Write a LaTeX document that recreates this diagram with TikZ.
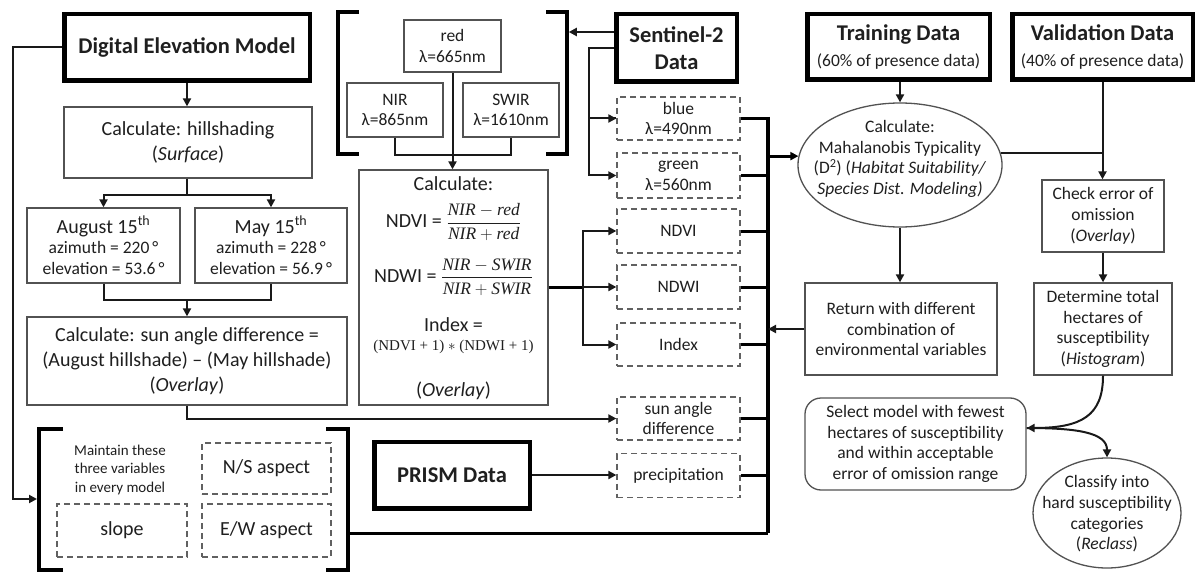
\documentclass[tikz,border=0pt]{standalone}
\usepackage{fix-cm}
\usepackage{amsmath}
\usepackage{fontspec}
\setmainfont{Carlito}
\newfontfamily\serfont{Liberation Serif}
\usetikzlibrary{arrows.meta,shapes.geometric,calc}
\newcommand{\fHead}{\fontsize{22.5}{27}\selectfont\bfseries}
\newcommand{\fBig}{\fontsize{20}{25}\selectfont}
\newcommand{\fSm}{\fontsize{17.5}{20.7}\selectfont}
\newcommand{\fNote}{\fontsize{15}{18.5}\selectfont}
\newcommand{\fFrac}{\fontsize{17.5}{20}\selectfont}
\newcommand{\mv}[1]{\mbox{\serfont\itshape #1}}
\begin{document}
\begin{tikzpicture}[x=1pt,y=-1pt,
 base/.style={align=center,inner sep=0pt,text=black!88},
 tbox/.style={base,draw=black!68,line width=1.3pt},
 hbox/.style={base,draw=black,line width=4.5pt},
 dbox/.style={base,draw=black!62,line width=1.3pt,dash pattern=on 6pt off 4pt},
 oval/.style={ellipse,draw=black!68,line width=1.3pt,inner sep=0pt},
 brk/.style={draw=black,line width=3.5pt},
 ln/.style={draw=black!90,line width=2pt},
 lnb/.style={draw=black,line width=3pt},
 tip/.style={-{Triangle[length=8pt,width=8pt]}},
]
\useasboundingbox[fill=white] (0,0) rectangle (1198,572);

% ---------- DEM branch ----------
\node[hbox,minimum width=245.5pt,minimum height=66.5pt,font=\fHead] (dem) at (187,47.5) {Digital Elevation Model};
\node[tbox,minimum width=248pt,minimum height=71pt,font=\fBig] (hill) at (188,142.5) {Calculate: hillshading\\(\textit{Surface})};
\node[tbox,minimum width=153pt,minimum height=75pt,font=\fSm] (aug) at (103.5,245.5) {{\fBig August 15\textsuperscript{th}}\\azimuth = 220\,°\\elevation = 53.6\,°};
\node[tbox,minimum width=152pt,minimum height=75pt,font=\fSm] (may) at (271,245.5) {{\fBig May 15\textsuperscript{th}}\\azimuth = 228\,°\\elevation = 56.9\,°};
\node[tbox,minimum width=320pt,minimum height=88pt,font=\fBig] (sun) at (187,361) {Calculate: sun angle difference =\\(August hillshade) -- (May hillshade)\\(\textit{Overlay})};

% ---------- bottom bracket ----------
\draw[brk] (63,429) -- (39,429) -- (39,570) -- (63,570);
\draw[brk] (326,429) -- (348,429) -- (348,570) -- (326,570);
\coordinate (lb) at (37,499);
\coordinate (rbk) at (349.75,533);
\node[base,font=\fNote] (note) at (120,469.5) {Maintain these\\three variables\\in every model};
\node[dbox,minimum width=129pt,minimum height=51pt,font=\fBig] (ns) at (266.5,468.5) {N/S aspect};
\node[dbox,minimum width=130pt,minimum height=53pt,font=\fBig] (slope) at (122,530.5) {slope};
\node[dbox,minimum width=129pt,minimum height=53pt,font=\fBig] (ew) at (266.5,530.5) {E/W aspect};
\node[hbox,minimum width=155.5pt,minimum height=66.5pt,font=\fHead] (prism) at (452,475) {PRISM Data};

% ---------- top bracket (bands) ----------
\draw[brk] (359,12) -- (338,12) -- (338,154) -- (359,154);
\draw[brk] (546,12) -- (567,12) -- (567,154) -- (546,154);
\coordinate (rb) at (568.75,32);
\node[tbox,minimum width=97pt,minimum height=52pt,font=\fSm] (red) at (452.5,46) {red\\λ=665nm};
\node[tbox,minimum width=96pt,minimum height=54pt,font=\fSm] (nir) at (395,110) {NIR\\λ=865nm};
\node[tbox,minimum width=96pt,minimum height=54pt,font=\fSm] (swir) at (511,110) {SWIR\\λ=1610nm};

% ---------- index calculation ----------
\node[tbox,minimum width=189pt,minimum height=235pt] (calc) at (453.5,287.5) {};
\node[base,font=\fBig] (calcA) at (453.5,184) {Calculate:};
\node[base,font=\fBig] (calcB) at (453.5,222) {NDVI = {\fFrac$\dfrac{\mv{NIR} - \mv{red}}{\mv{NIR} + \mv{red}}$}};
\node[base,font=\fBig] (calcC) at (453.5,277) {NDWI = {\fFrac$\dfrac{\mv{NIR} - \mv{SWIR}}{\mv{NIR} + \mv{SWIR}}$}};
\node[base,font=\fBig] (calcD) at (453.5,325) {Index =};
\node[base,font=\fontsize{15}{18}\serfont] (calcE) at (453.5,347) {(NDVI + 1) $*$ (NDWI + 1)};
\node[base,font=\fBig] (calcF) at (453.5,391) {(\textit{Overlay})};

% ---------- Sentinel ----------
\node[hbox,minimum width=120.5pt,minimum height=67.5pt,font=\fHead] (sent) at (676.5,48) {Sentinel-2\\Data};
\node[dbox,minimum width=123pt,minimum height=43pt,font=\fSm] (blue) at (678.5,118.5) {blue\\λ=490nm};
\node[dbox,minimum width=123pt,minimum height=45pt,font=\fSm] (green) at (678.5,175.5) {green\\λ=560nm};
\node[dbox,minimum width=123pt,minimum height=44pt,font=\fSm] (ndvi) at (678.5,231) {NDVI};
\node[dbox,minimum width=123pt,minimum height=44pt,font=\fSm] (ndwi) at (678.5,287) {NDWI};
\node[dbox,minimum width=123pt,minimum height=43pt,font=\fSm] (index) at (678.5,344.5) {Index};
\node[dbox,minimum width=123pt,minimum height=43pt,font=\fSm] (sunad) at (678.5,418.5) {sun angle\\difference};
\node[dbox,minimum width=123pt,minimum height=44pt,font=\fSm] (precip) at (678.5,475.5) {precipitation};
\coordinate (ctop) at (768,117);
\coordinate (cbot) at (768,533);

% ---------- right part ----------
\node[hbox,minimum width=182.5pt,minimum height=65.5pt,font=\fSm] (train) at (898.5,47) {{\fHead Training Data}\\[5pt](60\% of presence data)};
\node[hbox,minimum width=180.5pt,minimum height=65.5pt,font=\fSm] (valid) at (1102.5,47) {{\fHead Validation Data}\\[5pt](40\% of presence data)};
\node[oval,minimum width=204pt,minimum height=124pt] (mahal) at (900,165) {};
\node[base,font=\fSm] (mahalT) at (900,159) {Calculate:\\Mahalanobis Typicality\\(D\textsuperscript{2}) (\textit{Habitat Suitability/}\\\textit{Species Dist. Modeling)}};
\node[tbox,minimum width=122pt,minimum height=72pt,font=\fSm] (check) at (1103,216) {Check error of\\omission\\(\textit{Overlay})};
\node[tbox,minimum width=192pt,minimum height=92pt,font=\fSm] (ret) at (901,329) {Return with different\\combination of\\environmental variables};
\node[tbox,minimum width=138pt,minimum height=92pt,font=\fSm] (det) at (1103,329) {Determine total\\hectares of\\susceptibility\\(\textit{Histogram})};
\node[tbox,rounded corners=16pt,minimum width=221pt,minimum height=92pt,font=\fSm] (sel) at (915.5,444) {Select model with fewest\\hectares of susceptibility\\and within acceptable\\error of omission range};
\node[oval,minimum width=148pt,minimum height=110pt] (cls) at (1107,513) {};
\node[base,font=\fSm] (clsT) at (1107,514) {Classify into\\hard susceptibility\\categories\\(\textit{Reclass})};
\coordinate (selp) at ($(sel.east)+(0,-16)$);

% ---------- connectors: DEM ----------
\draw[ln,tip] (dem.south) -- (dem.south |- hill.north);
\draw[ln] (hill.south -| dem.south) -- ++(0,16) coordinate (hs);
\draw[ln,tip] (hs) -| (aug.north);
\draw[ln,tip] (hs) -| (may.north);
\draw[ln] (aug.south) -- ++(0,16) -| (may.south);
\draw[ln,tip] (aug.south -| sun.north) ++(0,16) -- (sun.north);
\draw[ln,tip] (sun.south) |- (sunad.west);
\draw[ln,tip] (dem.west) -- ++(-49,0) |- (lb);
\draw[ln,tip] (prism.east) -- (prism.east -| precip.west);

% ---------- connectors: Sentinel ----------
\draw[ln,tip] (sent.west |- rb) -- (rb);
\draw[ln] (sent.west) -- ++(-25,0) coordinate (sb) |- (blue.west);
\draw[ln,tip] (sb |- blue.west) -- (blue.west);
\draw[ln,tip] (sb) |- (green.west);
\draw[ln,tip] (red.south) -- (red.south |- calc.north);
\draw[ln] (nir.south) -- ++(0,17) -| (swir.south);
\draw[lnb] (calc.east |- ndwi.west) -- ++(34,0) coordinate (cb);
\draw[ln,tip] (cb) -- (ndwi.west);
\draw[ln,tip] (cb) |- (ndvi.west);
\draw[ln,tip] (cb) |- (index.west);

% ---------- collector ----------
\foreach \n in {blue,green,ndvi,ndwi,index,sunad,precip}
  \draw[lnb] (\n.east) -- (\n.east -| ctop);
\draw[draw=black,line width=4pt] (ctop) -- (cbot);
\draw[lnb] (rbk) -- (cbot);
\draw[lnb,tip] (mahal.175 -| ctop) -- (mahal.175);

% ---------- right connectors ----------
\draw[ln,tip] (mahal.north |- train.south) -- (mahal.north);
\draw[ln] (mahal.7) -- (mahal.7 -| valid.south);
\draw[ln,tip] (valid.south) -- (valid.south |- check.north);
\draw[ln,tip] (mahal.south) -- (mahal.south |- ret.north);
\draw[ln,tip] (ret.west) -- (ret.west -| ctop);
\draw[ln,tip] (check.south) -- (det.north);
\draw[ln,tip] (det.south) .. controls +(0,40) and +(55,0) .. (selp);
\draw[ln,tip] (selp) .. controls +(50,0) and +(0,-25) .. (cls.north);
\end{tikzpicture}
\end{document}
